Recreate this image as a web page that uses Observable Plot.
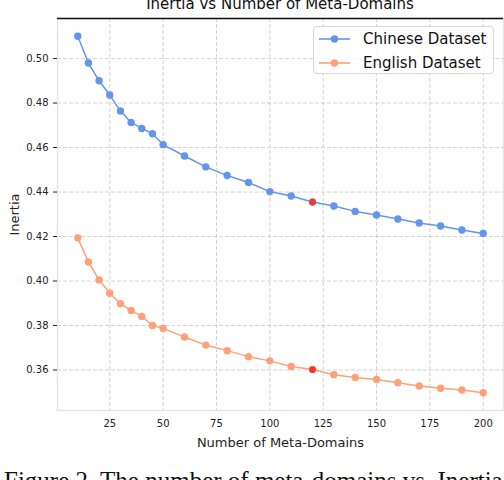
<!DOCTYPE html>
<html>
<head>
<meta charset="utf-8">
<script src="https://cdn.jsdelivr.net/npm/d3@7"></script>
<script src="https://cdn.jsdelivr.net/npm/@observablehq/plot@0.6"></script>
<style>
  html, body { margin: 0; padding: 0; background: #fff; }
  #wrap { position: relative; width: 504px; height: 480px; overflow: hidden; font-family: "DejaVu Sans", sans-serif; }
  #title { position: absolute; left: 0; width: 560px; top: -5px; text-align: center; font-size: 15px; line-height: 18px; color: #111; white-space: nowrap; }
  #legend { position: absolute; left: 313px; top: 26px; width: 181px; height: 48px; border: 1px solid #d8d8d8; border-radius: 4px; background: rgba(255,255,255,0.85); box-sizing: border-box; }
  .row { position: absolute; left: 0; height: 20px; display: flex; align-items: center; font-size: 15px; color: #111; white-space: nowrap; }
  .row svg { margin-left: 5px; margin-right: 13px; }
  #caption { position: absolute; left: 4px; top: 468px; font-family: "Liberation Serif", serif; font-size: 25px; line-height: 25px; color: #111; white-space: nowrap; }
  #chart { position: absolute; left: 0; top: 0; }
</style>
</head>
<body>
<div id="wrap">
  <div id="chart"></div>
  <div id="title"></div>
  <div id="legend"></div>
  <div id="caption"></div>
</div>
<script>
const metaDomains = [10,15,20,25,30,35,40,45,50,60,70,80,90,100,110,120,130,140,150,160,170,180,190,200];
const chineseInertia = [0.510,0.498,0.490,0.4836,0.4764,0.4713,0.4686,0.4662,0.4613,0.4562,0.4513,0.4474,0.4443,0.4402,0.4382,0.4355,0.4337,0.4313,0.4297,0.4279,0.4261,0.4247,0.4229,0.4214];
const englishInertia = [0.4194,0.4086,0.4005,0.3945,0.3898,0.3868,0.3841,0.3800,0.3787,0.3748,0.3712,0.3687,0.3660,0.3641,0.3616,0.3602,0.3579,0.3566,0.3557,0.3543,0.3528,0.3518,0.3510,0.3498];
const seriesNames = ["Chinese Dataset", "English Dataset"];
const seriesColors = ["#6495ED", "#FFA07A"];
const chosenK = 120;
const xTicks = [25,50,75,100,125,150,175,200];
const yTicks = [0.36,0.38,0.40,0.42,0.44,0.46,0.48,0.50];
const titleText = "Inertia vs Number of Meta-Domains";
const xLabel = "Number of Meta-Domains";
const yLabel = "Inertia";
const captionText = "Figure 2. The number of meta-domains vs. Inertia";

const rows = [];
metaDomains.forEach((k, i) => {
  rows.push({k, v: chineseInertia[i], s: seriesNames[0]});
  rows.push({k, v: englishInertia[i], s: seriesNames[1]});
});
const chosen = rows.filter(d => d.k === chosenK);

// matplotlib-like 5% margins
const xMin = d3.min(metaDomains), xMax = d3.max(metaDomains);
const allV = chineseInertia.concat(englishInertia);
const yMin = d3.min(allV), yMax = d3.max(allV);
const xPad = (xMax - xMin) * 0.05, yPad = (yMax - yMin) * 0.05;
const xDomain = [xMin - xPad, xMax + xPad];
const yDomain = [yMin - yPad, yMax + yPad];

const chart = Plot.plot({
  width: 504,
  height: 480,
  marginLeft: 57,
  marginRight: 1,
  marginTop: 18,
  marginBottom: 70,
  style: { fontFamily: "DejaVu Sans, sans-serif", background: "transparent", color: "#222" },
  x: { domain: xDomain },
  y: { domain: yDomain },
  color: { domain: seriesNames, range: seriesColors },
  marks: [
    Plot.gridX(xTicks, { stroke: "#cfcfcf", strokeOpacity: 1, strokeDasharray: "4,2", strokeWidth: 0.9 }),
    Plot.gridY(yTicks, { stroke: "#cfcfcf", strokeOpacity: 1, strokeDasharray: "4,2", strokeWidth: 0.9 }),
    Plot.frame({ stroke: "#e4e4e4", strokeWidth: 1.4 }),
    Plot.ruleY([yDomain[1]], { stroke: "#111", strokeWidth: 1.3 }),
    Plot.axisX(xTicks, { tickSize: 0, tickPadding: 9, fontSize: 10, label: xLabel, labelAnchor: "center", labelOffset: 36, labelArrow: "none" }),
    Plot.axisY(yTicks, { tickSize: 4, tickPadding: 5, fontSize: 10, tickFormat: d3.format(".2f"), label: yLabel, labelAnchor: "center", labelOffset: 48, labelArrow: "none" }),
    Plot.line(rows, { x: "k", y: "v", z: "s", stroke: "s", strokeWidth: 1.5 }),
    Plot.dot(rows, { x: "k", y: "v", fill: "s", r: 3.7, stroke: "none" }),
    Plot.dot(chosen, { x: "k", y: "v", fill: "#f2392e", r: 3.4, stroke: "none" })
  ]
});
chart.querySelectorAll("[aria-label='x-axis label'] text, [aria-label='y-axis label'] text").forEach(t => t.setAttribute("font-size", 13));
document.getElementById("chart").appendChild(chart);

document.getElementById("title").textContent = titleText;
document.getElementById("caption").textContent = captionText;

const leg = document.getElementById("legend");
seriesNames.forEach((name, i) => {
  const row = document.createElement("div");
  row.className = "row";
  row.style.top = (2 + i * 24) + "px";
  row.innerHTML = `<svg width="31" height="10"><line x1="0" x2="31" y1="5" y2="5" stroke="${seriesColors[i]}" stroke-width="1.6"/><circle cx="15.5" cy="5" r="3.7" fill="${seriesColors[i]}"/></svg><span></span>`;
  row.querySelector("span").textContent = name;
  leg.appendChild(row);
});
</script>
</body>
</html>
